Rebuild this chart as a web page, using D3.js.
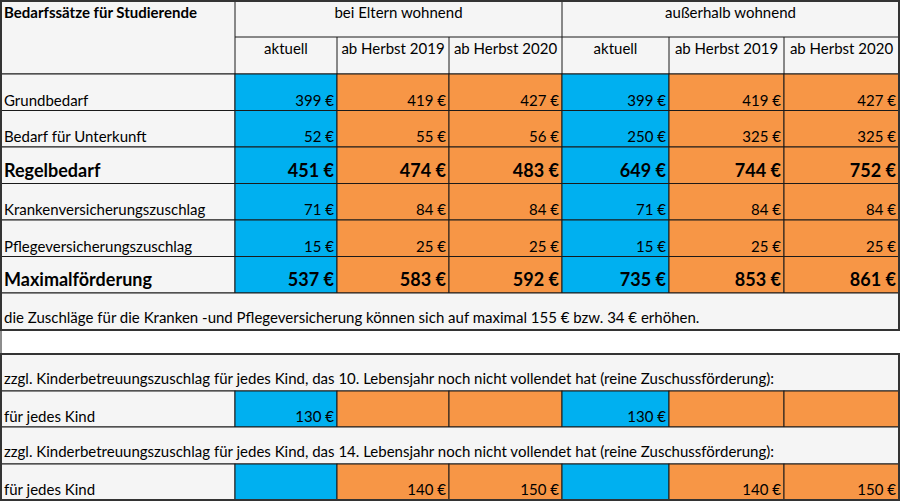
<!DOCTYPE html>
<html>
<head>
<meta charset="utf-8">
<script src="https://cdn.jsdelivr.net/npm/d3@7"></script>
<style>
  body { margin: 0; background: #fff; }
  svg text { font-family: Lato, "Open Sans", sans-serif; fill: #000; }
</style>
</head>
<body>
<div id="chart"></div>
<script>
// data
const title = 'Bedarfssätze für Studierende';
const groups = ['bei Eltern wohnend', 'außerhalb wohnend'];
const periods = ['aktuell', 'ab Herbst 2019', 'ab Herbst 2020'];
const rowLabels = ['Grundbedarf', 'Bedarf für Unterkunft', 'Regelbedarf',
  'Krankenversicherungszuschlag', 'Pflegeversicherungszuschlag', 'Maximalförderung'];
const boldRows = ['Regelbedarf', 'Maximalförderung'];
const grundbedarf = [399, 419, 427, 399, 419, 427];
const unterkunft = [52, 55, 56, 250, 325, 325];
const regelbedarf = [451, 474, 483, 649, 744, 752];
const kranken = [71, 84, 84, 71, 84, 84];
const pflege = [15, 25, 25, 15, 25, 25];
const maximal = [537, 583, 592, 735, 853, 861];
const note = 'die Zuschläge für die Kranken -und Pflegeversicherung können sich auf maximal 155 € bzw. 34 € erhöhen.';
const kind10Text = 'zzgl. Kinderbetreuungszuschlag für jedes Kind, das 10. Lebensjahr noch nicht vollendet hat (reine Zuschussförderung):';
const kind14Text = 'zzgl. Kinderbetreuungszuschlag für jedes Kind, das 14. Lebensjahr noch nicht vollendet hat (reine Zuschussförderung):';
const kindLabel = 'für jedes Kind';
const kind10 = [130, null, null, 130, null, null];
const kind14 = [null, 140, 150, null, 140, 150];

const mainValues = [grundbedarf, unterkunft, regelbedarf, kranken, pflege, maximal];

// dimensions
const width = 900;
const height = 501;
const LEFT = 1;
const RIGHT = 899;
const colEdges = [235, 337, 449, 562, 669, 784, 899];
const BLUE = '#00b0f0';
const ORANGE = '#f79646';
const GRAY = '#f5f5f5';
const LINE = '#1a1a1a';
const FS = '15px';
const FS_BOLD = '18px';

const colKeys = d3.range(6);
const colX = d3.scaleOrdinal().domain(colKeys).range(colEdges.slice(0, 6));
const colW = d3.scaleOrdinal().domain(colKeys).range(colKeys.map(i => colEdges[i + 1] - colEdges[i]));
const colFill = i => (i % 3 === 0 ? BLUE : ORANGE);

const rowY = d3.scaleBand().domain(rowLabels).range([74, 293]);
const lowerRows = [
  { key: 'note', y0: 293, y1: 330 },
  { key: 'blank', y0: 330, y1: 354 },
  { key: 'k10h', y0: 354, y1: 391 },
  { key: 'k10', y0: 391, y1: 427 },
  { key: 'k14h', y0: 427, y1: 464 },
  { key: 'k14', y0: 464, y1: 500 },
];
const lowY = d3.scaleOrdinal().domain(lowerRows.map(d => d.key)).range(lowerRows.map(d => d.y0));
const lowH = d3.scaleOrdinal().domain(lowerRows.map(d => d.key)).range(lowerRows.map(d => d.y1 - d.y0));

const euro = v => (v == null ? '' : v + ' €');

const $svg = d3.select('#chart').append('svg')
  .attr('width', width).attr('height', height);

const $cells = $svg.append('g').attr('class', 'cells');
const $text = $svg.append('g').attr('class', 'texts');

// header background
$cells.append('rect')
  .attr('x', LEFT).attr('y', 1).attr('width', RIGHT - LEFT).attr('height', 73)
  .attr('fill', GRAY).attr('stroke', LINE).attr('stroke-width', 1);
$cells.append('line')
  .attr('x1', colEdges[0]).attr('x2', RIGHT).attr('y1', 37).attr('y2', 37)
  .attr('stroke', LINE);
[0, 3].forEach(i => {
  $cells.append('line')
    .attr('x1', colX(i)).attr('x2', colX(i)).attr('y1', 1).attr('y2', 74)
    .attr('stroke', LINE);
});
[1, 2, 4, 5].forEach(i => {
  $cells.append('line')
    .attr('x1', colX(i)).attr('x2', colX(i)).attr('y1', 37).attr('y2', 74)
    .attr('stroke', LINE);
});

$text.append('text')
  .attr('x', 4).attr('y', 18)
  .style('font-size', FS).style('font-weight', 'bold')
  .text(title);
groups.forEach((g, gi) => {
  const x0 = colX(gi * 3);
  const x1 = gi === 0 ? colX(3) : RIGHT;
  $text.append('text')
    .attr('x', (x0 + x1) / 2).attr('y', 18)
    .attr('text-anchor', 'middle')
    .style('font-size', FS)
    .text(g);
});
colKeys.forEach(i => {
  $text.append('text')
    .attr('x', colX(i) + colW(i) / 2).attr('y', 54)
    .attr('text-anchor', 'middle')
    .style('font-size', FS)
    .text(periods[i % 3]);
});

// main rows
rowLabels.forEach((label, r) => {
  const y = rowY(label);
  const h = rowY.bandwidth();
  const bold = boldRows.includes(label);
  $cells.append('rect')
    .attr('x', LEFT).attr('y', y).attr('width', colEdges[0] - LEFT).attr('height', h)
    .attr('fill', GRAY).attr('stroke', LINE);
  $cells.selectAll(null)
    .data(mainValues[r])
    .join('rect')
    .attr('x', (d, i) => colX(i)).attr('y', y)
    .attr('width', (d, i) => colW(i)).attr('height', h)
    .attr('fill', (d, i) => colFill(i)).attr('stroke', LINE);

  $text.append('text')
    .attr('x', 4).attr('y', y + h - (bold ? 7 : 5))
    .style('font-size', bold ? FS_BOLD : FS)
    .style('font-weight', bold ? 'bold' : 'normal')
    .text(label);
  $text.selectAll(null)
    .data(mainValues[r])
    .join('text')
    .attr('x', (d, i) => colX(i) + colW(i) - 3)
    .attr('y', y + h - (bold ? 7 : 5))
    .attr('text-anchor', 'end')
    .style('font-size', bold ? FS_BOLD : FS)
    .style('font-weight', bold ? 'bold' : 'normal')
    .text(euro);
});

// lower section
function fullRow(key, txt) {
  $cells.append('rect')
    .attr('x', LEFT).attr('y', lowY(key)).attr('width', RIGHT - LEFT).attr('height', lowH(key))
    .attr('fill', GRAY).attr('stroke', LINE);
  $text.append('text')
    .attr('x', 4).attr('y', lowY(key) + lowH(key) - 7)
    .style('font-size', FS)
    .text(txt);
}
function kindRow(key, values) {
  const y = lowY(key);
  const h = lowH(key);
  $cells.append('rect')
    .attr('x', LEFT).attr('y', y).attr('width', colEdges[0] - LEFT).attr('height', h)
    .attr('fill', GRAY).attr('stroke', LINE);
  $cells.selectAll(null)
    .data(values)
    .join('rect')
    .attr('x', (d, i) => colX(i)).attr('y', y)
    .attr('width', (d, i) => colW(i)).attr('height', h)
    .attr('fill', (d, i) => colFill(i)).attr('stroke', LINE);
  $text.append('text')
    .attr('x', 4).attr('y', y + h - 5)
    .style('font-size', FS)
    .text(kindLabel);
  $text.selectAll(null)
    .data(values)
    .join('text')
    .attr('x', (d, i) => colX(i) + colW(i) - 3)
    .attr('y', y + h - 5)
    .attr('text-anchor', 'end')
    .style('font-size', FS)
    .text(euro);
}

fullRow('note', note);
// blank spacer row: only left border
$cells.append('line')
  .attr('x1', LEFT).attr('x2', LEFT)
  .attr('y1', lowY('blank')).attr('y2', lowY('blank') + lowH('blank'))
  .attr('stroke', LINE);
fullRow('k10h', kind10Text);
kindRow('k10', kind10);
fullRow('k14h', kind14Text);
kindRow('k14', kind14);

// outer edges slightly heavier
$svg.append('rect')
  .attr('x', LEFT).attr('y', 1).attr('width', RIGHT - LEFT).attr('height', 329)
  .attr('fill', 'none').attr('stroke', '#333').attr('stroke-width', 2);
$svg.append('rect')
  .attr('x', LEFT).attr('y', 354).attr('width', RIGHT - LEFT).attr('height', 146)
  .attr('fill', 'none').attr('stroke', '#333').attr('stroke-width', 2);
</script>
</body>
</html>
